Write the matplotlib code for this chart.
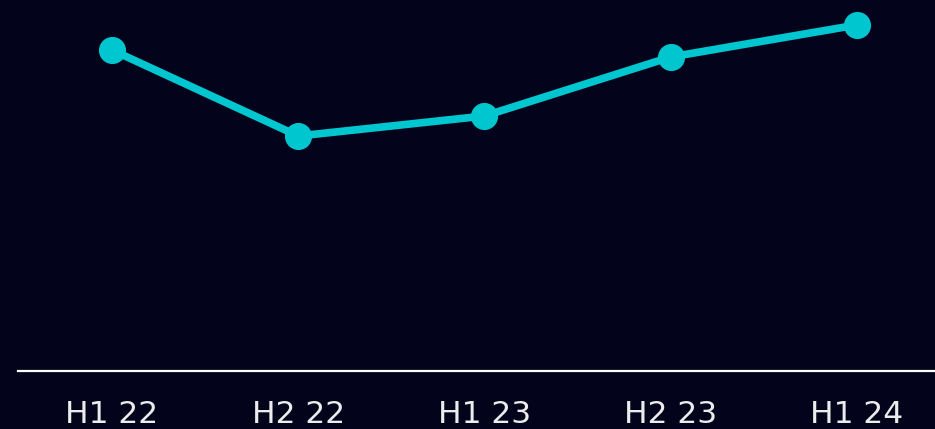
import numpy as np
import matplotlib.pyplot as plt

# data
periods = ["H1 22", "H2 22", "H1 23", "H2 23", "H1 24"]
values = [321, 235, 255, 314, 346]

bg = "#03041c"
cyan = "#00c6cf"

fig = plt.figure(figsize=(9.35, 4.29), dpi=100, facecolor=bg)
ax = fig.add_axes([18 / 935, 1 - 371 / 429, 917 / 935, 371 / 429])
ax.set_facecolor(bg)

x = np.arange(len(periods))
ax.plot(x, values, color=cyan, lw=5.5, marker="o", ms=18.5, solid_capstyle="round")

ax.set_xlim(-0.505, 4.42)
ax.set_ylim(0, 371)
for s in ["top", "left", "right"]:
    ax.spines[s].set_visible(False)
ax.spines["bottom"].set_color("white")
ax.spines["bottom"].set_linewidth(1.6)
ax.set_yticks([])
ax.set_xticks(x)
ax.set_xticklabels(periods, fontsize=22.5, color="#ececec", family="DejaVu Sans")
ax.tick_params(axis="x", length=0, pad=21)

fig.savefig("out.png", dpi=100, facecolor=bg)
